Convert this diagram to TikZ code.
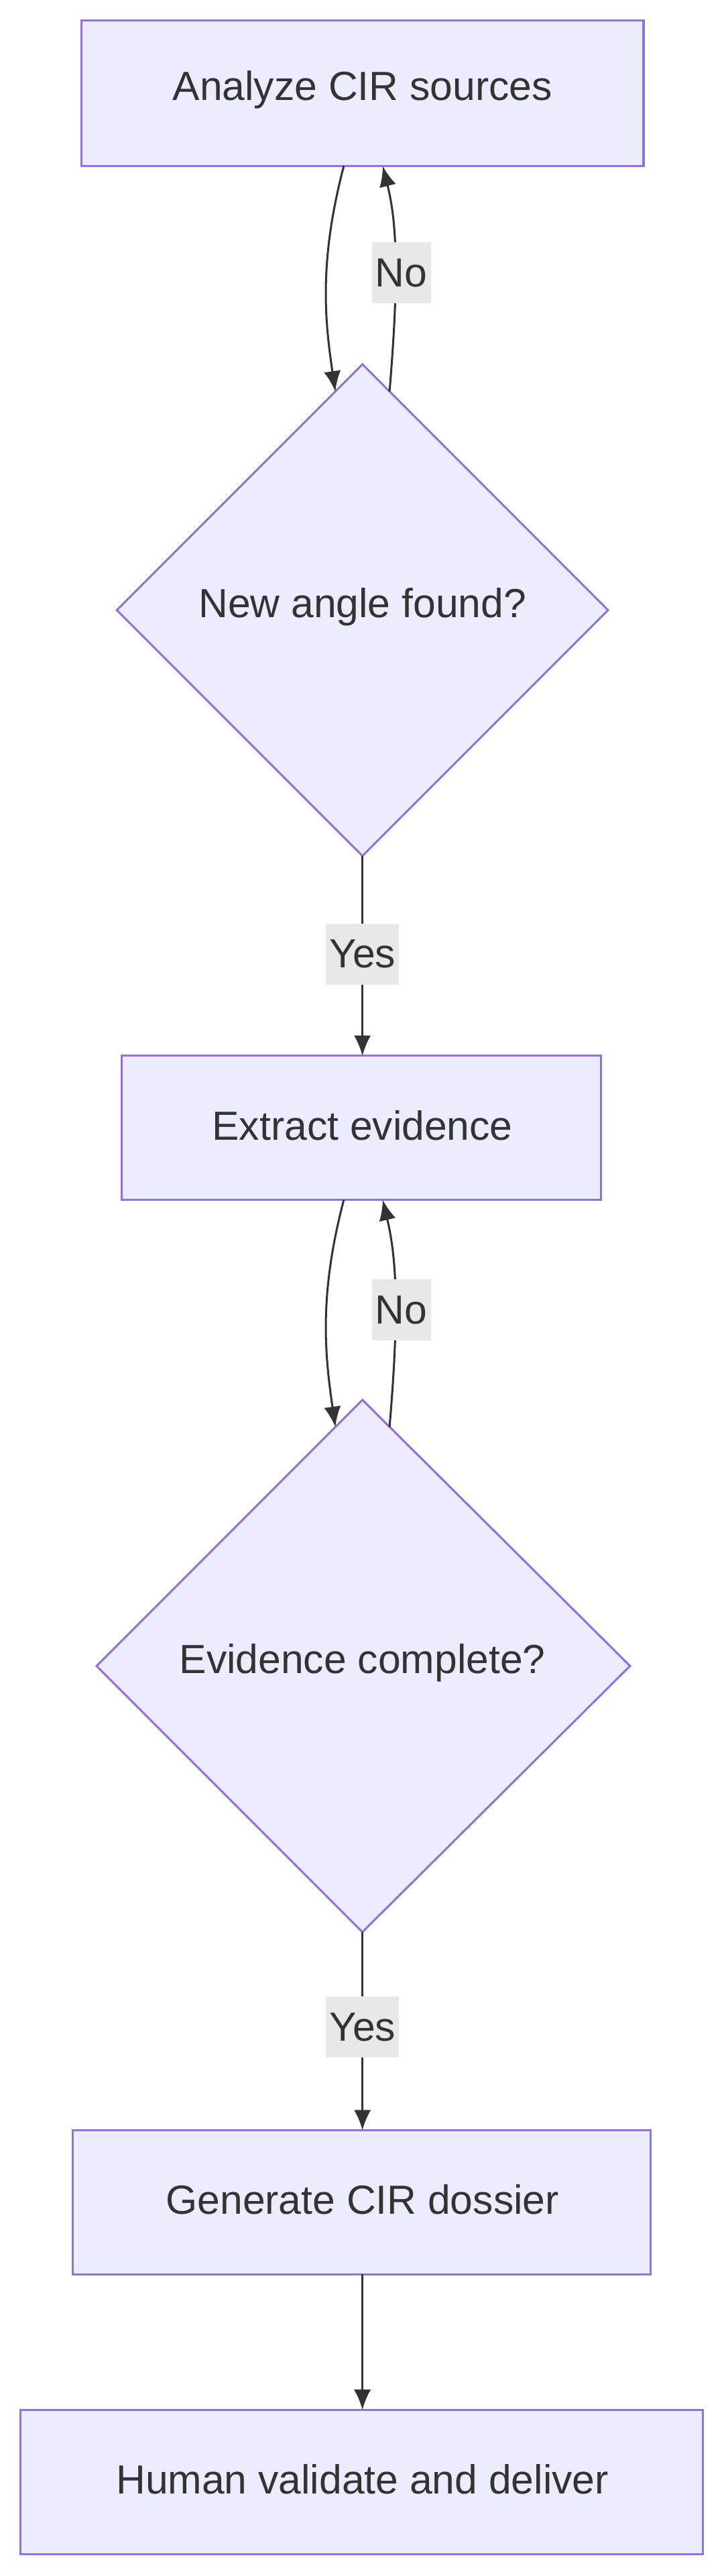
\documentclass[tikz,border=0pt]{standalone}
\usepackage{fontspec}
\setmainfont{Liberation Sans}
\usetikzlibrary{arrows.meta}
\definecolor{nfill}{HTML}{ECECFF}
\definecolor{nline}{HTML}{9370DB}
\definecolor{ntext}{HTML}{333333}
\definecolor{lbg}{HTML}{E8E8E8}
\begin{document}
\begin{tikzpicture}[x=1pt,y=-1pt,
 box/.style={draw=nline,fill=nfill,line width=1.2pt},
 txt/.style={text=ntext,font=\fontsize{24}{28}\selectfont},
 lbl/.style={fill=lbg,text=ntext,font=\fontsize{24}{28}\selectfont,inner sep=2pt,minimum height=36pt},
 edge/.style={draw=ntext,line width=1.2pt,-{Latex[length=12pt,width=10pt]}}]
\useasboundingbox (0,0) rectangle (427.5,1520);
\path[box] (48,12) rectangle (380,98); \node[txt] (a) at (214,53) {Analyze CIR sources};
\path[box] (214,215) -- (359,360) -- (214,505) -- (69,360) -- cycle; \node[txt] (d1) at (214,358) {New angle found?};
\path[box] (72,623) rectangle (355,708); \node[txt] (b) at (214,664) {Extract evidence};
\path[box] (214,826) -- (372,983) -- (214,1140) -- (57,983) -- cycle; \node[txt] (d2) at (214,981) {Evidence complete?};
\path[box] (43,1257) rectangle (384,1342); \node[txt] (c) at (214,1298) {Generate CIR dossier};
\path[box] (12,1422) rectangle (415,1507); \node[txt] (e) at (214,1463) {Human validate and deliver};
\coordinate (a1) at (203,98); \coordinate (a2) at (226,98);
\coordinate (t1) at (198,231); \coordinate (t2) at (230,231);
\draw[edge] (a1) .. controls (188,155) and (192,190) .. (t1);
\draw[edge] (t2) .. controls (236,160) and (234,130) .. (a2);
\node[lbl] at (237,161) {No};
\draw[edge] (214,505) -- (214,623);
\node[lbl] at (214,563) {Yes};
\coordinate (b1) at (203,708); \coordinate (b2) at (226,708);
\coordinate (u1) at (198,842); \coordinate (u2) at (230,842);
\draw[edge] (b1) .. controls (188,765) and (192,800) .. (u1);
\draw[edge] (u2) .. controls (236,772) and (234,742) .. (b2);
\node[lbl] at (237,773) {No};
\draw[edge] (214,1140) -- (214,1257);
\node[lbl] at (214,1196) {Yes};
\draw[edge] (214,1342) -- (214,1422);
\end{tikzpicture}
\end{document}
